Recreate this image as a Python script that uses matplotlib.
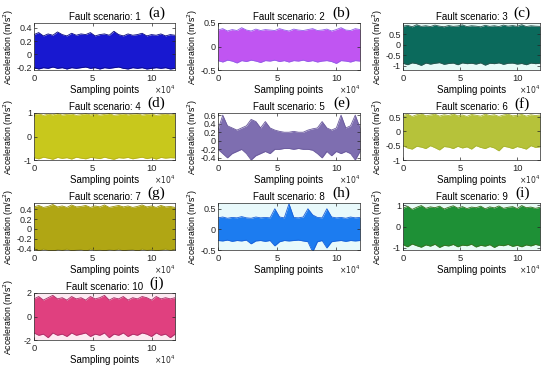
import numpy as np
import matplotlib
matplotlib.use('Agg')
import matplotlib.pyplot as plt

plt.rcParams['font.family'] = ['Liberation Sans', 'DejaVu Sans']

# sample positions of the envelope readings (every 4000 points)
x_env = np.arange(0, 120001, 4000)

scenarios = [1, 2, 3, 4, 5, 6, 7, 8, 9, 10]
panel_tags = ['(a)', '(b)', '(c)', '(d)', '(e)', '(f)', '(g)', '(h)', '(i)', '(j)']

# upper / lower envelopes (m/s^2)
a_up = [0.30, 0.33, 0.28, 0.31, 0.29, 0.34, 0.30, 0.28, 0.32, 0.29, 0.31, 0.30, 0.33, 0.28, 0.30, 0.31,
        0.29, 0.35, 0.30, 0.28, 0.31, 0.29, 0.30, 0.32, 0.28, 0.30, 0.29, 0.31, 0.28, 0.30, 0.29]
a_lo = [-0.20, -0.22, -0.20, -0.21, -0.19, -0.21, -0.20, -0.22, -0.20, -0.21, -0.20, -0.19, -0.21, -0.20, -0.22, -0.20,
        -0.21, -0.20, -0.19, -0.21, -0.22, -0.20, -0.21, -0.20, -0.22, -0.21, -0.20, -0.21, -0.20, -0.22, -0.21]
b_up = [0.35, 0.38, 0.33, 0.36, 0.34, 0.40, 0.35, 0.33, 0.37, 0.34, 0.36, 0.35, 0.34, 0.38, 0.35, 0.33,
        0.37, 0.35, 0.34, 0.36, 0.38, 0.34, 0.35, 0.37, 0.33, 0.36, 0.40, 0.35, 0.34, 0.38, 0.36]
b_lo = [-0.30, -0.33, -0.29, -0.31, -0.35, -0.30, -0.32, -0.29, -0.31, -0.34, -0.30, -0.31, -0.29, -0.32, -0.30, -0.33,
        -0.30, -0.31, -0.29, -0.32, -0.30, -0.33, -0.31, -0.30, -0.32, -0.36, -0.30, -0.31, -0.33, -0.30, -0.31]
c_up = [0.88, 0.92, 0.85, 0.95, 0.87, 0.90, 0.86, 0.93, 0.88, 0.85, 0.91, 0.87, 0.89, 0.94, 0.86, 0.90,
        0.88, 0.85, 0.92, 0.87, 0.90, 0.86, 0.93, 0.88, 0.91, 0.87, 0.95, 0.86, 0.90, 0.88, 0.87]
c_lo = [-0.88, -0.95, -0.86, -0.90, -0.98, -0.87, -0.92, -0.88, -0.85, -0.93, -0.89, -0.87, -0.95, -0.86, -0.90, -0.88,
        -0.92, -0.86, -0.97, -0.88, -0.90, -0.86, -0.93, -0.88, -0.87, -0.92, -0.89, -0.95, -0.87, -0.90, -0.88]
d_up = [0.93, 0.97, 0.90, 0.95, 0.92, 0.98, 0.91, 0.94, 0.96, 0.90, 0.93, 0.97, 0.92, 0.95, 0.91, 0.94,
        0.98, 0.90, 0.93, 0.96, 0.92, 0.95, 0.97, 0.91, 0.94, 0.96, 0.90, 0.93, 0.95, 0.92, 0.94]
d_lo = [-0.90, -0.95, -0.88, -0.92, -0.97, -0.89, -0.93, -0.90, -0.96, -0.88, -0.92, -0.95, -0.89, -0.91, -0.94, -0.88,
        -0.93, -0.97, -0.90, -0.92, -0.89, -0.95, -0.91, -0.88, -0.94, -0.90, -0.96, -0.89, -0.92, -0.90, -0.91]
e_up = [0.25, 0.60, 0.35, 0.30, 0.25, 0.30, 0.35, 0.50, 0.45, 0.30, 0.45, 0.30, 0.25, 0.22, 0.20, 0.20,
        0.22, 0.20, 0.20, 0.25, 0.28, 0.30, 0.45, 0.30, 0.25, 0.30, 0.60, 0.30, 0.35, 0.60, 0.30]
e_lo = [-0.20, -0.30, -0.40, -0.30, -0.25, -0.20, -0.30, -0.45, -0.35, -0.30, -0.25, -0.30, -0.20, -0.20, -0.18, -0.18,
        -0.20, -0.18, -0.20, -0.20, -0.22, -0.30, -0.40, -0.25, -0.35, -0.25, -0.30, -0.25, -0.30, -0.45, -0.25]
f_up = [0.55, 0.60, 0.52, 0.58, 0.62, 0.54, 0.57, 0.60, 0.53, 0.58, 0.55, 0.61, 0.54, 0.57, 0.52, 0.59,
        0.56, 0.53, 0.60, 0.55, 0.58, 0.52, 0.57, 0.60, 0.54, 0.56, 0.59, 0.53, 0.58, 0.55, 0.57]
f_lo = [-0.50, -0.58, -0.62, -0.52, -0.55, -0.60, -0.50, -0.57, -0.65, -0.53, -0.55, -0.60, -0.52, -0.58, -0.54, -0.62,
        -0.50, -0.56, -0.60, -0.53, -0.58, -0.68, -0.52, -0.55, -0.60, -0.53, -0.57, -0.62, -0.50, -0.56, -0.54]
g_up = [0.45, 0.48, 0.44, 0.46, 0.50, 0.45, 0.47, 0.44, 0.49, 0.45, 0.46, 0.48, 0.44, 0.47, 0.45, 0.49,
        0.44, 0.46, 0.48, 0.45, 0.47, 0.44, 0.46, 0.49, 0.45, 0.47, 0.44, 0.48, 0.45, 0.46, 0.44]
g_lo = [-0.42, -0.45, -0.41, -0.44, -0.46, -0.42, -0.44, -0.41, -0.45, -0.43, -0.42, -0.46, -0.41, -0.44, -0.43, -0.45,
        -0.42, -0.44, -0.41, -0.45, -0.43, -0.42, -0.46, -0.41, -0.44, -0.42, -0.45, -0.43, -0.41, -0.44, -0.42]
h_up = [0.28, 0.30, 0.27, 0.29, 0.28, 0.31, 0.28, 0.27, 0.30, 0.28, 0.29, 0.28, 0.50, 0.30, 0.28, 0.62,
        0.29, 0.28, 0.30, 0.50, 0.35, 0.29, 0.28, 0.50, 0.30, 0.28, 0.29, 0.27, 0.30, 0.28, 0.29]
h_lo = [-0.27, -0.28, -0.26, -0.29, -0.27, -0.28, -0.26, -0.35, -0.28, -0.27, -0.29, -0.27, -0.40, -0.30, -0.27, -0.28,
        -0.27, -0.26, -0.28, -0.30, -0.55, -0.30, -0.27, -0.45, -0.30, -0.28, -0.27, -0.29, -0.27, -0.28, -0.27]
i_up = [0.85, 0.95, 0.80, 0.90, 0.98, 0.85, 0.92, 0.88, 0.95, 0.82, 0.90, 0.97, 0.86, 0.93, 0.84, 0.91,
        0.88, 0.95, 0.83, 0.92, 0.87, 0.96, 0.85, 0.90, 0.93, 0.84, 0.98, 0.88, 0.91, 0.85, 0.90]
i_lo = [-0.85, -0.95, -0.82, -0.90, -0.97, -0.86, -0.92, -0.83, -0.98, -0.88, -0.91, -0.84, -0.95, -0.87, -0.90, -0.83,
        -0.96, -0.88, -0.92, -0.85, -0.98, -0.87, -0.90, -0.84, -0.93, -0.88, -0.95, -0.86, -0.91, -0.84, -0.89]
j_up = [1.5, 1.7, 1.4, 1.6, 1.8, 1.5, 1.6, 1.4, 1.7, 1.5, 1.6, 1.4, 1.7, 1.5, 1.6, 1.8,
        1.4, 1.6, 1.5, 1.7, 1.4, 1.6, 1.5, 1.7, 1.6, 1.4, 1.7, 1.5, 1.6, 1.5, 1.6]
j_lo = [-1.4, -1.6, -1.5, -1.8, -1.4, -1.6, -1.5, -1.7, -1.4, -1.6, -1.5, -1.4, -1.7, -1.5, -1.6, -1.4,
        -1.8, -1.5, -1.6, -1.4, -1.7, -1.5, -1.6, -1.4, -1.5, -1.7, -1.4, -1.6, -1.5, -1.8, -1.5]

uppers = [a_up, b_up, c_up, d_up, e_up, f_up, g_up, h_up, i_up, j_up]
lowers = [a_lo, b_lo, c_lo, d_lo, e_lo, f_lo, g_lo, h_lo, i_lo, j_lo]

y_limits = [(-0.235, 0.475), (-0.5, 0.5), (-1.2, 1.03), (-1, 1), (-0.45, 0.65),
            (-1, 0.64), (-0.43, 0.53), (-0.5, 0.64), (-1.1, 1.1), (-2, 2)]
y_ticks = [[-0.2, 0, 0.2, 0.4], [-0.5, 0, 0.5], [-1, -0.5, 0, 0.5], [-1, 0, 1],
           [-0.4, -0.2, 0, 0.2, 0.4, 0.6], [-1, -0.5, 0, 0.5], [-0.4, -0.2, 0, 0.2, 0.4],
           [-0.5, 0, 0.5], [-1, 0, 1], [-2, 0, 2]]

fill_colors = ['#1818d0', '#c055f2', '#0b6a5c', '#c8c81c', '#7e6eb0',
               '#b6c23a', '#b0a614', '#1c7cf0', '#1e9036', '#e0407f']
edge_colors = ['#0a0a80', '#9060e8', '#2f5550', '#b8b020', '#6a5a9c',
               '#a8b430', '#9c9410', '#1a60d8', '#3a7020', '#a83068']
bg_colors = ['white', 'white', '#e8fbf8', 'white', 'white',
             'white', 'white', '#e8f9fb', '#e8fbf6', '#fdeaf2']

W, H = 550, 370
col_left = [34, 218, 403]
col_width = [141, 142, 137]
ylab_off = [-18, -18, -18]
row_top = [23, 113, 203, 293]
ax_h = 47

fig = plt.figure(figsize=(5.5, 3.7), dpi=100)

for k in range(10):
    r, c = divmod(k, 3)
    ax = fig.add_axes([col_left[c] / W, 1 - (row_top[r] + ax_h) / H,
                       col_width[c] / W, ax_h / H])
    ax.set_facecolor(bg_colors[k])
    ax.fill_between(x_env, lowers[k], uppers[k], color=fill_colors[k], lw=0)
    ax.plot(x_env, uppers[k], color=edge_colors[k], lw=0.6)
    ax.plot(x_env, lowers[k], color=edge_colors[k], lw=0.6)
    ax.set_xlim(0, 120000)
    ax.set_ylim(*y_limits[k])
    ax.set_xticks([0, 50000, 100000])
    ax.set_xticklabels(['0', '5', '10'])
    ax.set_yticks(y_ticks[k])
    ax.set_yticklabels(['{:g}'.format(v) for v in y_ticks[k]])
    ax.tick_params(direction='in', length=2, width=0.5, labelsize=6.5, pad=1.5,
                   colors='#262626', top=True, right=True)
    ax.tick_params(axis='x', pad=3, labelsize=6.8)
    for s in ax.spines.values():
        s.set_linewidth(0.5)
        s.set_color('#262626')
    ax.set_title('Fault scenario: {}'.format(scenarios[k]), fontsize=7, pad=2)
    ax.set_xlabel('Sampling points', fontsize=7, labelpad=1)
    ax.set_ylabel('Acceleration (m/s$^2$)', fontsize=6.3)
    ax.yaxis.set_label_coords(ylab_off[c] / col_width[c], 0.5)
    ax.text(1.0, -0.43, r'$\times10^4$', transform=ax.transAxes, fontsize=5.5,
            ha='right', va='center', color='#262626')
    ax.text(0.87, 1.2, panel_tags[k], transform=ax.transAxes, fontsize=11,
            family=['Liberation Serif', 'DejaVu Serif'], ha='center', va='center')

fig.savefig('out.png', dpi=100)
